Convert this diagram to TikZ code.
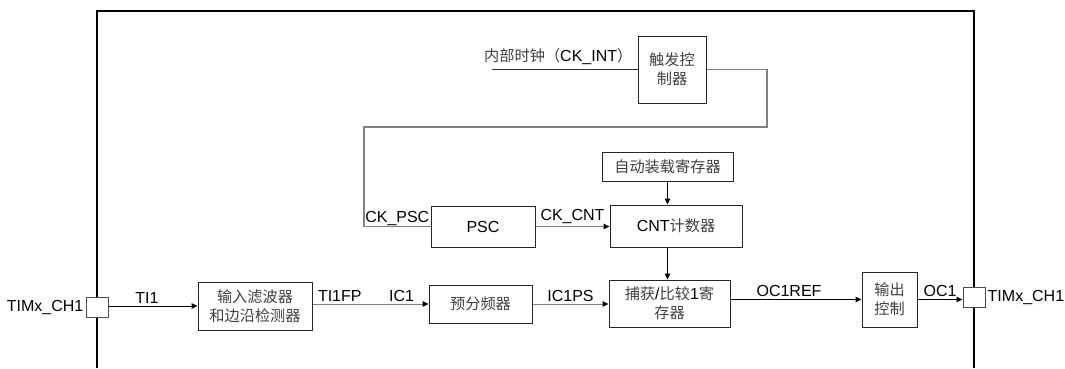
\documentclass[tikz,border=0pt]{standalone}
\usepackage{fontspec}
\setmainfont{Liberation Sans}
\newfontfamily\cjk[Scale=0.95]{Noto Sans CJK SC}
\newcommand{\zh}[1]{{\cjk\color{black!75}#1}}
\usetikzlibrary{arrows.meta,positioning}

\begin{document}
\begin{tikzpicture}[
  x=1pt, y=-1pt,
  font=\fontsize{16}{19}\selectfont,
  blk/.style={rectangle, draw=black!85, line width=1pt, inner sep=0pt, align=center},
  pin/.style={rectangle, draw=black!70, line width=1pt, fill=white,
              minimum width=22pt, minimum height=20pt},
  arr/.style={-{Triangle[length=6pt,width=5.5pt,color=black]}, line width=1pt},
  wire/.style={line width=1.4pt, black!50},
  lbl/.style={inner sep=2pt, text=black}
]
  \useasboundingbox (0,0) rectangle (1065,368);
  % timer frame, open at the bottom
  \draw[line width=2.5pt] (97,368) -- (97,11) -- (974,11) -- (974,368);

  \node[blk, minimum width=68pt, minimum height=67pt] (trig) at (672,69.5) {\zh{触发控}\\\zh{制器}};
  \node[lbl, anchor=west] (ckint) at (482,57) {\zh{内部时钟（}CK\_INT\zh{）}};
  \coordinate (clkin) at (492,69);
  \node[blk, minimum width=104pt, minimum height=41pt] (psc) at (483,226.5) {PSC};
  \node[blk, minimum width=131pt, minimum height=29pt] (arld) at (667.5,166.5) {\zh{自动装载寄存器}};
  \node[blk, minimum width=132pt, minimum height=42pt] (cnt) at (676,226) {CNT\zh{计数器}};
  \node[blk, minimum width=114pt, minimum height=48pt] (filt) at (255,306) {\zh{输入滤波器}\\\zh{和边沿检测器}};
  \node[blk, minimum width=103pt, minimum height=38pt] (presc) at (480.5,304) {\zh{预分频器}};
  \node[blk, minimum width=121pt, minimum height=47pt] (ccr) at (669.5,303.5) {\zh{捕获}/\zh{比较}1\zh{寄}\\\zh{存器}};
  \node[blk, minimum width=55pt, minimum height=55pt] (outc) at (889.5,299.5) {\zh{输出}\\\zh{控制}};
  \node[pin] (pinin) at (97,307) {};
  \node[pin] (pinout) at (974,297) {};
  \node[lbl, anchor=east] (chin) at (pinin.west) {TIMx\_CH1};
  \node[lbl, anchor=west] (chout) at (pinout.east) {TIMx\_CH1};

  % clock path through the trigger controller
  \coordinate (loopR) at (767,127);
  \coordinate (loopL) at (364,127);
  \draw[line width=1pt, black!80] (clkin) -- (trig.west |- clkin);
  \draw[wire] (trig.east) -| (loopR) -- (loopL) |- (psc.west);
  \node[lbl, anchor=south east, inner sep=1pt] (ckpsc) at (psc.west) {CK\_PSC};
  \draw[wire, arr] (psc.east) -- (cnt.west |- psc.east)
    node[lbl, midway, above] (ckcnt) {CK\_CNT};
  \draw[arr] (arld.south) -- (arld.south |- cnt.north);
  \draw[arr] (arld.south |- cnt.south) -- (arld.south |- ccr.north);

  % input / output channel
  \draw[arr] (pinin.east |- filt.west) -- (filt.west)
    node[lbl, midway, above, xshift=-6pt] (ti1) {TI1};
  \draw[wire, arr] (filt.east |- presc.west) -- (presc.west)
    node[lbl, pos=0, anchor=south west, xshift=3pt] (ti1fp) {TI1FP}
    node[lbl, pos=1, anchor=south east, xshift=-12pt] (ic1) {IC1};
  \draw[wire, arr] (presc.east) -- (presc.east -| ccr.west)
    node[lbl, midway, above] (ic1ps) {IC1PS};
  \draw[arr] (ccr.east |- outc.west) -- (outc.west)
    node[lbl, midway, above, xshift=-7pt] (oc1ref) {OC1REF};
  \draw[arr] (outc.east) -- (outc.east -| pinout.west)
    node[lbl, midway, above] (oc1) {OC1};
\end{tikzpicture}
\end{document}
